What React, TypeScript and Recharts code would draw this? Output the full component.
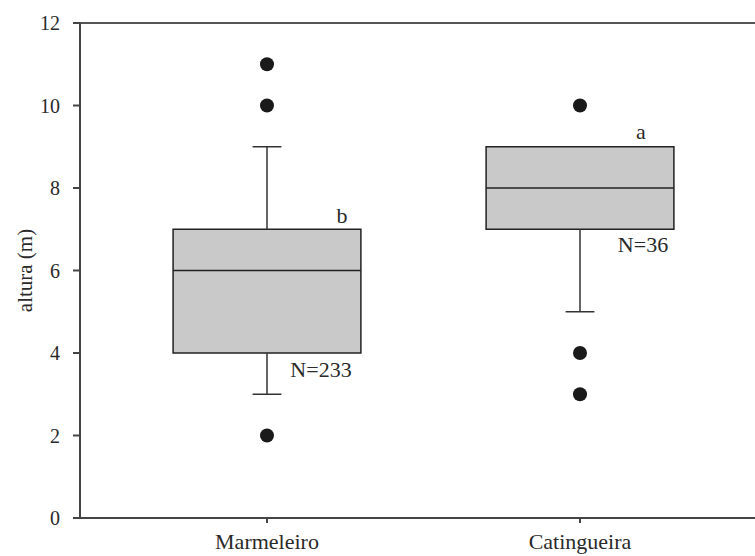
import {
  ComposedChart,
  Scatter,
  XAxis,
  YAxis,
  ReferenceArea,
  ReferenceLine,
  ReferenceDot,
} from "recharts";

// species on the x axis, placed at x = 1, 2
const species = ["Marmeleiro", "Catingueira"];
const speciesPos = [1, 2];

// box plot summaries, height in metres
const q1 = [4, 7];
const median = [6, 8];
const q3 = [7, 9];
const whiskerLow = [3, 5];
const whiskerHigh = [9, 9];
const outliers = [
  [2, 10, 11],
  [3, 4, 10],
];

// group letters and sample sizes
const groupLetter = ["b", "a"];
const sampleSize = [233, 36];

const yTicks = [0, 2, 4, 6, 8, 10, 12];

// layout (data units on x, pixels for text nudges)
const BOX_HALF = 0.3;
const CAP_HALF = 0.046;
const letterDx = [75, 61];
const letterDy = [-6, -8];
const nDx = [54, 63];
const nDy = [24, 23];

const FONT = "'Liberation Serif', 'Times New Roman', serif";
const INK = "#2a2a2a";

const outlierPoints = outliers.flatMap((vals, i) =>
  vals.map((v) => ({ x: speciesPos[i], y: v }))
);

const TextMark = (text: string, dx: number, dy: number) => (props: any) =>
  (
    <text
      x={props.cx + dx}
      y={props.cy + dy}
      textAnchor="middle"
      fontFamily={FONT}
      fontSize={22}
      fill={INK}
    >
      {text}
    </text>
  );

export default function App() {
  return (
    <div
      style={{ position: "absolute", left: 0, top: 0, width: 755, height: 556, overflow: "hidden" }}
    >
      <ComposedChart
        width={770}
        height={556}
        margin={{ top: 23, right: 0, left: 20, bottom: 0 }}
        style={{ outline: "none" }}
      >
        <XAxis
          type="number"
          dataKey="x"
          domain={[0.4026, 2.607]}
          allowDataOverflow
          ticks={speciesPos}
          tickFormatter={(v: number) => species[v - 1]}
          stroke="#444"
          strokeWidth={2}
          tickSize={5}
          tickMargin={10}
          height={38}
          tick={{ fontSize: 22, fill: INK, fontFamily: FONT }}
        />
        <YAxis
          type="number"
          dataKey="y"
          domain={[0, 12]}
          ticks={yTicks}
          stroke="#444"
          strokeWidth={2}
          tickSize={7}
          tickMargin={13}
          width={60}
          tick={{ fontSize: 20, fill: INK, fontFamily: FONT }}
          label={{
            content: ({ viewBox }: any) => {
              const cy = viewBox.y + viewBox.height / 2;
              return (
                <text
                  x={25}
                  y={cy}
                  transform={`rotate(-90, 25, ${cy})`}
                  textAnchor="middle"
                  dominantBaseline="central"
                  fontFamily={FONT}
                  fontSize={21}
                  fill={INK}
                >
                  altura (m)
                </text>
              );
            },
          }}
        />

        {/* top frame line */}
        <ReferenceLine y={12} stroke="#555" strokeWidth={2} />

        {speciesPos.map((x, i) => (
          <ReferenceArea
            key={`box-${i}`}
            x1={x - BOX_HALF}
            x2={x + BOX_HALF}
            y1={q1[i]}
            y2={q3[i]}
            fill="#c9c9c9"
            fillOpacity={1}
            stroke="#222"
            strokeWidth={1.5}
          />
        ))}
        {speciesPos.map((x, i) => (
          <ReferenceLine
            key={`med-${i}`}
            segment={[
              { x: x - BOX_HALF, y: median[i] },
              { x: x + BOX_HALF, y: median[i] },
            ]}
            stroke="#222"
            strokeWidth={1.5}
          />
        ))}
        {speciesPos.map((x, i) => (
          <ReferenceLine
            key={`wl-${i}`}
            segment={[
              { x, y: q1[i] },
              { x, y: whiskerLow[i] },
            ]}
            stroke="#333"
            strokeWidth={1.5}
          />
        ))}
        {speciesPos.map((x, i) => (
          <ReferenceLine
            key={`wlc-${i}`}
            segment={[
              { x: x - CAP_HALF, y: whiskerLow[i] },
              { x: x + CAP_HALF, y: whiskerLow[i] },
            ]}
            stroke="#333"
            strokeWidth={1.5}
          />
        ))}
        {speciesPos.map((x, i) =>
          whiskerHigh[i] > q3[i] ? (
            <ReferenceLine
              key={`wh-${i}`}
              segment={[
                { x, y: q3[i] },
                { x, y: whiskerHigh[i] },
              ]}
              stroke="#333"
              strokeWidth={1.5}
            />
          ) : null
        )}
        {speciesPos.map((x, i) =>
          whiskerHigh[i] > q3[i] ? (
            <ReferenceLine
              key={`whc-${i}`}
              segment={[
                { x: x - CAP_HALF, y: whiskerHigh[i] },
                { x: x + CAP_HALF, y: whiskerHigh[i] },
              ]}
              stroke="#333"
              strokeWidth={1.5}
            />
          ) : null
        )}

        {speciesPos.map((x, i) => (
          <ReferenceDot
            key={`letter-${i}`}
            x={x}
            y={q3[i]}
            r={0}
            shape={TextMark(groupLetter[i], letterDx[i], letterDy[i])}
          />
        ))}
        {speciesPos.map((x, i) => (
          <ReferenceDot
            key={`n-${i}`}
            x={x}
            y={q1[i]}
            r={0}
            shape={TextMark(`N=${sampleSize[i]}`, nDx[i], nDy[i])}
          />
        ))}

        <Scatter
          data={outlierPoints}
          dataKey="y"
          isAnimationActive={false}
          shape={(p: any) => <circle cx={p.cx} cy={p.cy} r={7} fill="#1a1a1a" />}
        />
      </ComposedChart>
    </div>
  );
}
